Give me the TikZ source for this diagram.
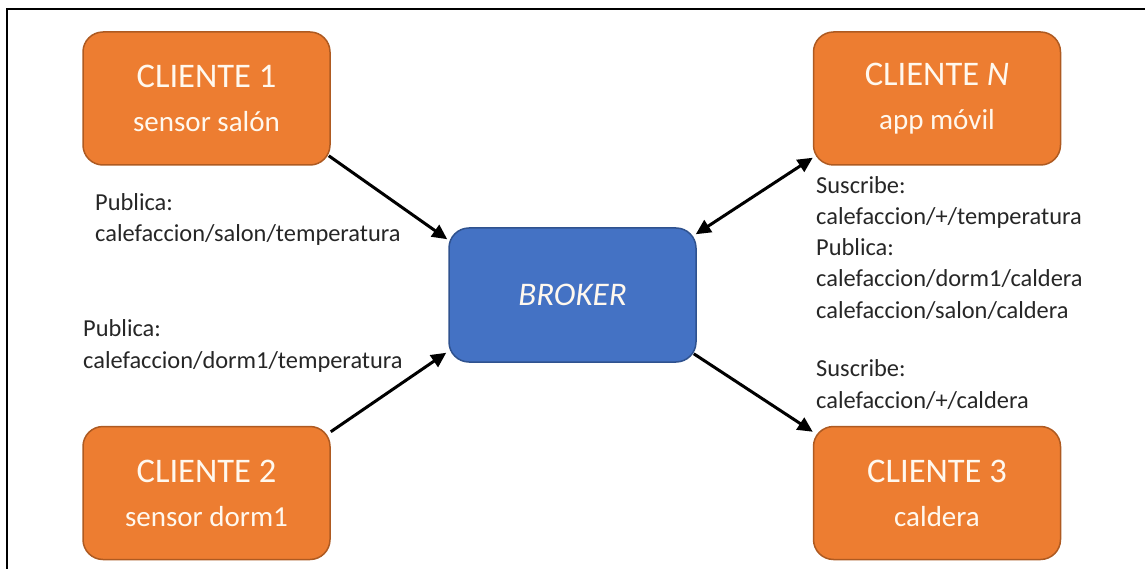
\documentclass[tikz,border=0pt]{standalone}
\usepackage{fontspec}
\setmainfont{Carlito}
\usetikzlibrary{arrows.meta,calc}
\definecolor{orangefill}{RGB}{237,125,49}
\definecolor{orangeedge}{RGB}{174,90,33}
\definecolor{bluefill}{RGB}{68,114,196}
\definecolor{blueedge}{RGB}{47,82,143}
\definecolor{labeltext}{RGB}{38,38,38}
\definecolor{boxtext}{RGB}{255,248,238}
\newcommand\cltitle[1]{{\fontsize{34.5}{44}\selectfont #1}}
\begin{document}
\begin{tikzpicture}[x=1pt,y=-1pt,
  client/.style={draw=orangeedge, line width=1.5pt, fill=orangefill, rounded corners=20pt,
    minimum width=247pt, minimum height=133pt, text=boxtext, align=center, inner sep=0pt,
    font=\fontsize{29}{44}\selectfont},
  brokerbox/.style={draw=blueedge, line width=1.5pt, fill=bluefill, rounded corners=20pt,
    minimum width=247pt, minimum height=134pt, text=boxtext, inner sep=0pt,
    font=\fontsize{33}{40}\selectfont\itshape},
  tip/.style={Triangle[length=15pt,width=14pt]},
  conn/.style={line width=3pt, -{Triangle[length=15pt,width=14pt]}},
  lbl/.style={anchor=base west, align=left, text=labeltext, inner sep=0pt,
    font=\fontsize{24.4}{31.2}\selectfont},
  frame/.style={draw=black, line width=2.5pt}]
\useasboundingbox (0,0) rectangle (1145,569);
\draw[frame] (7,569) -- (7,9) -- (1145,9);

\node[client] (c1) at (206.5,98.5) {\cltitle{CLIENTE 1}\\sensor salón};
\node[client] (cn) at (937,98.5) {\cltitle{CLIENTE \textit{N}}\\app móvil};
\node[client] (c2) at (206.5,493) {\cltitle{CLIENTE 2}\\sensor dorm1};
\node[client] (c3) at (937,493) {\cltitle{CLIENTE 3}\\caldera};
\node[brokerbox] (br) at (572.5,295) {BROKER};

% base anchor of a multi-line node is the baseline of its last line
\node[lbl] (l1) at (95,242) {Publica:\\calefaccion/salon/temperatura};
\node[lbl] (l2) at (83,368) {Publica:\\calefaccion/dorm1/temperatura};
\node[lbl] (r1) at (816,318) {Suscribe:\\calefaccion/+/temperatura\\Publica:\\calefaccion/dorm1/caldera\\calefaccion/salon/caldera};
\node[lbl] (r2) at (816,408) {Suscribe:\\calefaccion/+/caldera};

\draw[conn] ($(c1.south east)+(-2,-10)$) -- ($(br.north west)+(-1,12)$);
\draw[conn] ($(c2.north east)+(0,6)$) -- ($(br.south west)+(-2,-10)$);
\draw[conn, {Triangle[length=15pt,width=14pt]}-{Triangle[length=15pt,width=14pt]}] ($(br.north east)+(-1,7)$) -- ($(cn.south west)+(0,-8)$);
\draw[conn] ($(br.south east)+(-3,-9)$) -- ($(c3.north west)+(0,6)$);
\end{tikzpicture}
\end{document}
